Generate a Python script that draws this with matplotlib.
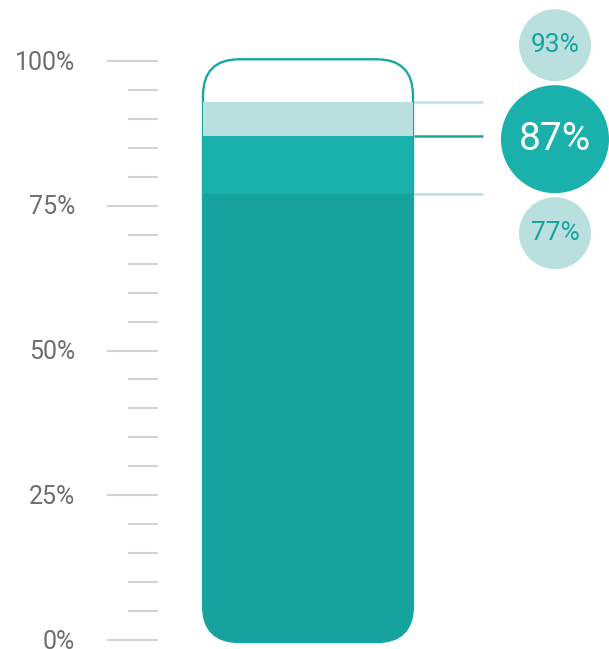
import matplotlib.pyplot as plt
from matplotlib.patches import FancyBboxPatch, Circle

# data
levels = [77, 87, 93]
level_labels = ["77%", "87%", "93%"]
highlight = 1  # index of the main value
tick_values = list(range(0, 101, 5))
major_ticks = [0, 25, 50, 75, 100]
major_labels = ["0%", "25%", "50%", "75%", "100%"]

dark = "#16a39f"
mid = "#1ab1ad"
light = "#b9e0df"
outline = "#1aa7a3"
tick_color = "#d2d2d2"
label_color = "#6e6e6e"

# one unit = one percent, both axes (5.79 px per unit)
px = 5.79
W, H = 609, 649
fig = plt.figure(figsize=(W / 100, H / 100), dpi=100)
ax = fig.add_axes([0, 0, 1, 1])
ax.set_xlim(0, W / px)
ax.set_ylim(-(H - 640) / px, 640 / px)
ax.set_aspect("equal")
ax.axis("off")

# scale ticks + labels
for v in tick_values:
    x0 = 107 / px if v in major_ticks else 128 / px
    ax.plot([x0, 158 / px], [v, v], color=tick_color, lw=1.5,
            solid_capstyle="butt")
for v, lab in zip(major_ticks, major_labels):
    ax.text(75 / px, v - 0.3, lab, ha="right", va="center", fontsize=18,
            family="Roboto", fontweight="normal", color=label_color)

# tube
tx0, tx1 = 203 / px, 413 / px
ybot, ytop = -0.35, 100.3
rad = 6.3
tube = FancyBboxPatch((tx0, ybot), tx1 - tx0, ytop - ybot,
                      boxstyle=f"round,pad=0,rounding_size={rad}",
                      fc="none", ec=outline, lw=1.7, zorder=3)
ax.add_patch(tube)
clip = FancyBboxPatch((tx0, ybot), tx1 - tx0, ytop - ybot,
                      boxstyle=f"round,pad=0,rounding_size={rad}",
                      fc="none", ec="none", transform=ax.transData)
ax.add_patch(clip)

bottoms = [ybot - 1] + levels[:-1]
heights = [top - b for top, b in zip(levels, bottoms)]
bars = ax.bar((tx0 + tx1) / 2, heights, bottom=bottoms, width=tx1 - tx0,
              color=[dark, mid, light], lw=0, zorder=4)
for b in bars:
    b.set_clip_path(clip)

# leader lines
line_colors = [light, outline, light]
for v, c in zip(levels, line_colors):
    ax.plot([tx1 + 0.1, 483 / px], [v, v], color=c, lw=1.8,
            solid_capstyle="butt", zorder=2)

# label circles, stacked around the highlighted value
cx = 555 / px
R, r, gap = 54 / px, 36 / px, 4 / px
main = levels[highlight] - 0.5
offsets = {0: -(R + r + gap), 1: 0, 2: R + r + gap}
for i, (v, lab) in enumerate(zip(levels, level_labels)):
    cy = main + offsets[i]
    if i == highlight:
        ax.add_patch(Circle((cx, cy), R, fc=mid, ec="none", zorder=5))
        ax.text(cx, cy, lab, ha="center", va="center", fontsize=28,
                family="Roboto", color="white", zorder=6)
    else:
        ax.add_patch(Circle((cx, cy), r, fc=light, ec="none", zorder=5))
        ax.text(cx, cy, lab, ha="center", va="center", fontsize=19,
                family="Roboto", color=dark, zorder=6)

fig.savefig("out.png", dpi=100)
